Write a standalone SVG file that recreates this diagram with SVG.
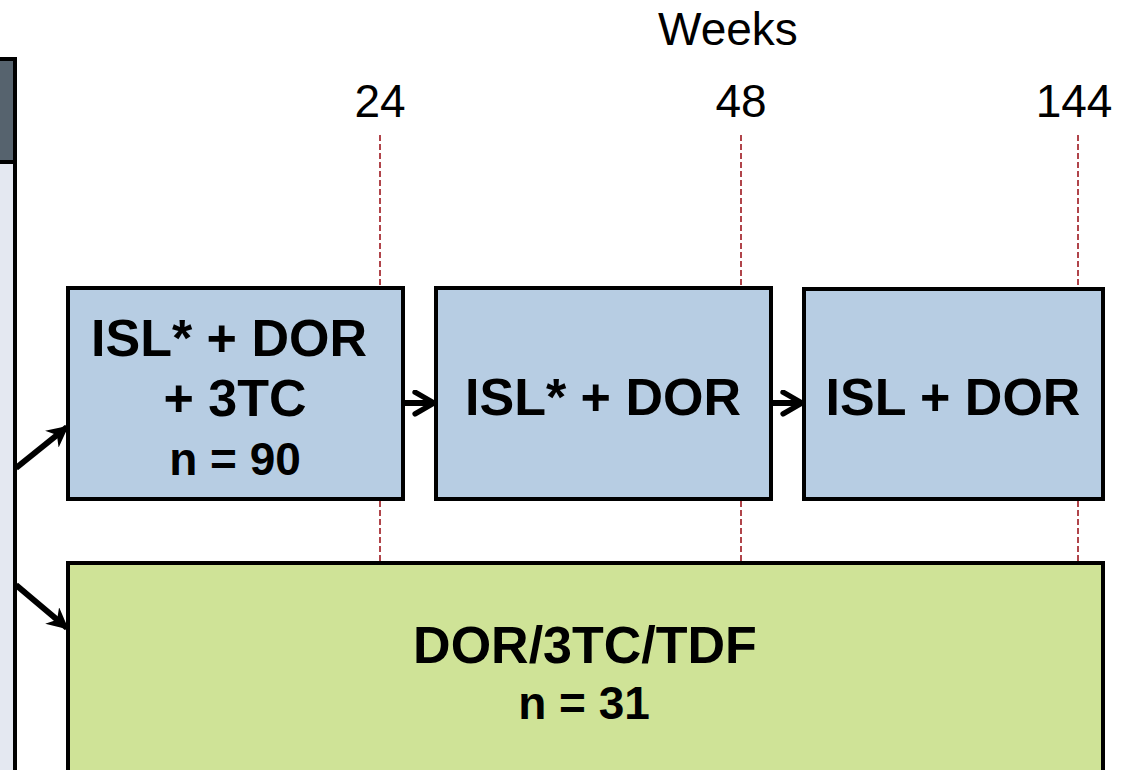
<svg xmlns="http://www.w3.org/2000/svg" width="1128" height="770" viewBox="0 0 1128 770">
  <defs>
    <style>
      .lbl { font-family: "Liberation Sans", Arial, sans-serif; fill: #000; text-anchor: middle; }
      .wk { font-size: 46px; }
      .big { font-size: 52px; font-weight: bold; }
      .mid { font-size: 46px; font-weight: bold; }
      .box { stroke: #000; stroke-width: 4; }
      .tick { stroke: #b0444a; stroke-width: 2; stroke-dasharray: 6 3; fill: none; }
      .conn { stroke: #000; stroke-width: 6; fill: none; }
    </style>
    <marker id="head" viewBox="0 0 10 10" refX="9" refY="5" markerWidth="3.6" markerHeight="3.6" orient="auto" markerUnits="strokeWidth">
      <path d="M0,0 L10,5 L0,10 L3,5 Z" fill="#000"/>
    </marker>
    <marker id="chev" viewBox="0 0 10 10" refX="9" refY="5" markerWidth="4.5" markerHeight="4.5" orient="auto" markerUnits="strokeWidth">
      <path d="M2,1 L9,5 L2,9" fill="none" stroke="#000" stroke-width="2" stroke-linecap="round" stroke-linejoin="round"/>
    </marker>
  </defs>
  <rect width="1128" height="770" fill="#fff"/>

  <!-- left panel -->
  <g id="panel">
    <rect x="-10" y="59" width="25" height="720" fill="#e4e8f1" class="box"/>
    <rect x="-10" y="59" width="25" height="103" fill="#56636e" class="box"/>
  </g>

  <!-- time axis -->
  <g id="axis">
    <text class="lbl wk" x="728" y="45">Weeks</text>
    <text class="lbl wk" x="380" y="117">24</text>
    <text class="lbl wk" x="741" y="117">48</text>
    <text class="lbl wk" x="1074" y="117">144</text>
    <line class="tick" x1="380" y1="135" x2="380" y2="287"/>
    <line class="tick" x1="741" y1="135" x2="741" y2="287"/>
    <line class="tick" x1="1078" y1="135" x2="1078" y2="287"/>
    <line class="tick" x1="380" y1="501" x2="380" y2="562"/>
    <line class="tick" x1="741" y1="501" x2="741" y2="562"/>
    <line class="tick" x1="1078" y1="501" x2="1078" y2="562"/>
  </g>

  <!-- treatment phases -->
  <g id="phase1">
    <rect class="box" x="68" y="288" width="335" height="211" fill="#b7cde3"/>
    <text class="lbl big" x="229" y="356">ISL* + DOR</text>
    <text class="lbl big" x="235" y="416">+ 3TC</text>
    <text class="lbl mid" x="235" y="475">n = 90</text>
  </g>
  <g id="phase2">
    <rect class="box" x="436" y="288" width="335" height="211" fill="#b7cde3"/>
    <text class="lbl big" x="603" y="415">ISL* + DOR</text>
  </g>
  <g id="phase3">
    <rect class="box" x="804" y="289" width="299" height="210" fill="#b7cde3"/>
    <text class="lbl big" x="953" y="415">ISL + DOR</text>
  </g>
  <g id="control">
    <rect class="box" x="68" y="563" width="1035" height="230" fill="#cfe397"/>
    <text class="lbl big" x="585" y="663">DOR/3TC/TDF</text>
    <text class="lbl mid" x="584" y="719">n = 31</text>
  </g>

  <!-- connectors -->
  <g id="connectors">
    <line class="conn" x1="16" y1="468" x2="67" y2="427" marker-end="url(#head)"/>
    <line class="conn" x1="16" y1="585" x2="67" y2="628" marker-end="url(#head)"/>
    <line class="conn" x1="403" y1="403" x2="434" y2="403" stroke-width="3.5" marker-end="url(#chev)"/>
    <line class="conn" x1="771" y1="403" x2="802" y2="403" stroke-width="3.5" marker-end="url(#chev)"/>
  </g>
</svg>
